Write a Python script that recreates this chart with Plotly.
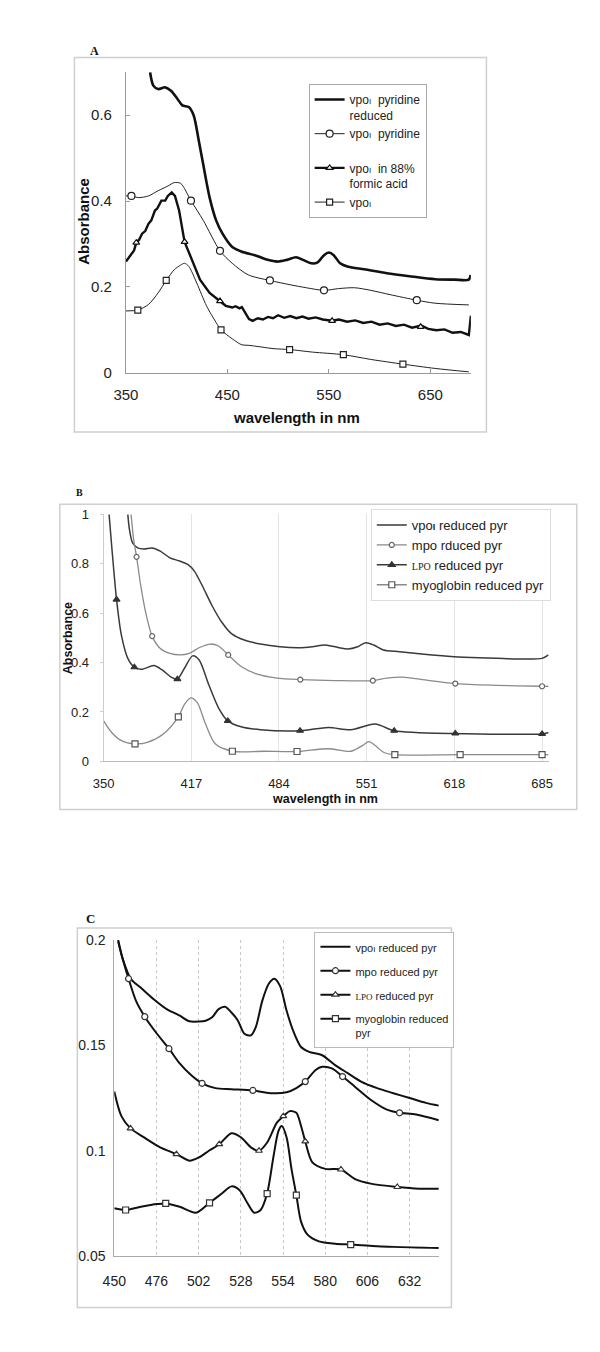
import plotly.graph_objects as go

W, H = 600, 1352
def PX(x): return x / W
def PY(y): return 1 - y / H

# ---------------- Panel A data ----------------
a1_wl = [373.8, 377, 381.7, 388.7, 394.4, 400.8, 405.6, 411.9, 416.7, 421.4, 426.2, 432.5, 438.9, 445.2,
         454.8, 464.3, 477, 489.7, 499.2, 508.7, 517.6, 524.6, 532.5, 538.9, 545.2, 550, 554.8, 561.1,
         569, 584.9, 607.1, 629.4, 654.8, 673.8, 688, 689.7]
a1_ab = [0.70, 0.669, 0.661, 0.665, 0.657, 0.638, 0.623, 0.619, 0.60, 0.546, 0.485, 0.408, 0.355, 0.324,
         0.293, 0.282, 0.274, 0.263, 0.259, 0.263, 0.269, 0.263, 0.255, 0.257, 0.274, 0.280, 0.274, 0.255,
         0.247, 0.241, 0.232, 0.225, 0.218, 0.217, 0.217, 0.228]

a2_wl = [350, 355.4, 362.7, 372.2, 381.7, 391.3, 397.6, 404, 414.1, 426.2, 442.7, 454.8, 470.6, 491.9,
         511.9, 527.8, 545.2, 559.5, 575.4, 591.3, 610.3, 636.7, 654.8, 688]
a2_ab = [0.412, 0.412, 0.408, 0.412, 0.424, 0.435, 0.443, 0.441, 0.401, 0.355, 0.284, 0.255, 0.228, 0.215,
         0.205, 0.198, 0.192, 0.196, 0.198, 0.192, 0.182, 0.169, 0.162, 0.158]
a2_mk_wl = [355.4, 414.1, 442.7, 491.9, 545.2, 636.7]
a2_mk_ab = [0.412, 0.401, 0.284, 0.215, 0.192, 0.169]

a3_wl = [350, 353, 356.3, 358, 360.2, 363, 365.9, 369, 372.2, 375, 378.6, 381, 384.9, 388.7, 391.3, 395.1,
         398.3, 402.4, 407.8, 415.1, 423, 432.5, 442.7, 448.4, 454.8, 458, 462, 464.3, 467.5, 471.3,
         475, 480, 485, 490, 495, 500, 506, 512, 518, 524, 530, 537, 544, 553, 560, 568, 576, 584,
         592, 600, 608, 616, 624, 632, 641, 648, 656, 664, 672, 680, 688, 690]
a3_ab = [0.259, 0.268, 0.278, 0.285, 0.303, 0.310, 0.324, 0.330, 0.347, 0.355, 0.378, 0.383, 0.401, 0.401,
         0.412, 0.420, 0.412, 0.378, 0.305, 0.263, 0.217, 0.186, 0.167, 0.156, 0.152, 0.155, 0.150, 0.153,
         0.140, 0.125, 0.121, 0.127, 0.124, 0.130, 0.127, 0.134, 0.128, 0.132, 0.127, 0.131, 0.126,
         0.129, 0.124, 0.121, 0.124, 0.119, 0.122, 0.116, 0.119, 0.112, 0.115, 0.109, 0.112, 0.105,
         0.110, 0.102, 0.099, 0.101, 0.093, 0.095, 0.088, 0.133]
a3_mk_wl = [360.2, 407.8, 442.7, 553.2, 640.5]
a3_mk_ab = [0.303, 0.305, 0.167, 0.121, 0.107]

a4_wl = [350, 361.7, 372.2, 381.7, 389.7, 397.6, 404, 407.8, 411.9, 419.8, 429.4, 438.9, 443.7, 454.8,
         464.3, 470.6, 483.3, 496, 511.3, 534.1, 564.3, 591.3, 623, 654.8, 688]
a4_ab = [0.144, 0.146, 0.159, 0.186, 0.215, 0.240, 0.251, 0.255, 0.248, 0.209, 0.156, 0.117, 0.100, 0.079,
         0.065, 0.064, 0.060, 0.056, 0.054, 0.048, 0.042, 0.031, 0.020, 0.010, 0.002]
a4_mk_wl = [361.7, 389.7, 443.7, 511.3, 564.3, 623]
a4_mk_ab = [0.146, 0.215, 0.100, 0.054, 0.042, 0.020]

a_names = ["vpo<span style='font-size:8px'>I</span>  pyridine<br>reduced",
           "vpo<span style='font-size:8px'>I</span>  pyridine<br> ",
           "vpo<span style='font-size:8px'>I</span>  in 88%<br>formic acid",
           "vpo<span style='font-size:8px'>I</span>"]
a_xticks = [350, 450, 550, 650]
a_yticks = [0, 0.2, 0.4, 0.6]

# ---------------- Panel B data ----------------
b1_wl = [368.5, 369.8, 372.2, 376, 380.9, 387.1, 393.3, 400.7, 408.1, 414.3, 419.2, 425.4, 432.8, 440.2,
         447.7, 457.5, 469.9, 484.7, 499.6, 509.5, 519.3, 529.2, 536.6, 544.1, 550.2, 556.4, 563.8,
         576.2, 600.9, 625.6, 650.4, 685, 689.9]
b1_ab = [1.0, 0.937, 0.884, 0.864, 0.86, 0.864, 0.851, 0.824, 0.811, 0.797, 0.771, 0.711, 0.631, 0.564,
         0.517, 0.491, 0.475, 0.464, 0.46, 0.464, 0.471, 0.461, 0.455, 0.464, 0.48, 0.471, 0.451,
         0.444, 0.431, 0.421, 0.417, 0.417, 0.431]

b2_wl = [371, 373, 375.2, 378.4, 382.1, 387.1, 393.3, 400.7, 408.1, 415.5, 422.9, 431.6, 437.8, 445.2,
         455.1, 467.4, 482.3, 500.3, 526.8, 555.7, 566.3, 578.7, 593.5, 618.7, 650.4, 685, 690]
b2_ab = [1.0, 0.897, 0.828, 0.711, 0.604, 0.507, 0.457, 0.437, 0.431, 0.437, 0.46, 0.475, 0.467, 0.431,
         0.384, 0.353, 0.337, 0.331, 0.327, 0.327, 0.337, 0.341, 0.331, 0.315, 0.308, 0.304, 0.304]
b2_mk_wl = [375.2, 387.1, 445.2, 500.3, 555.7, 618.7, 685]
b2_mk_ab = [0.828, 0.507, 0.431, 0.331, 0.327, 0.315, 0.304]

b3_wl = [354.2, 356.2, 359.9, 363.6, 368.5, 373.5, 379.7, 388.3, 394.5, 401.9, 406.4, 411.8, 418, 422.9,
         430.3, 437.8, 444.9, 455.1, 469.9, 500.1, 521.8, 538.9, 557.4, 572, 588.6, 618.7, 685, 690]
b3_ab = [1.0, 0.871, 0.655, 0.511, 0.417, 0.381, 0.373, 0.388, 0.371, 0.34, 0.333, 0.377, 0.427, 0.411,
         0.311, 0.217, 0.164, 0.14, 0.128, 0.124, 0.137, 0.128, 0.151, 0.124, 0.117, 0.113, 0.111, 0.117]
b3_mk_wl = [359.9, 373.5, 406.4, 444.9, 500.1, 572, 618.7, 685]
b3_mk_ab = [0.655, 0.381, 0.333, 0.164, 0.124, 0.124, 0.113, 0.111]

b4_wl = [350, 356.2, 363.6, 374, 383.4, 395.7, 407.1, 411.8, 416.7, 421.7, 427.9, 435.3, 448.4, 472.4,
         497.8, 521.8, 539.1, 547.7, 552.7, 557.6, 563.8, 572.5, 622.4, 685, 690]
b4_ab = [0.164, 0.117, 0.084, 0.071, 0.077, 0.111, 0.18, 0.231, 0.257, 0.237, 0.151, 0.071, 0.041, 0.041,
         0.04, 0.051, 0.041, 0.064, 0.08, 0.064, 0.037, 0.027, 0.027, 0.027, 0.027]
b4_mk_wl = [374, 407.1, 448.4, 497.8, 572.5, 622.4, 685]
b4_mk_ab = [0.071, 0.18, 0.041, 0.04, 0.027, 0.027, 0.027]

b_names = ["vpo<span style='font-size:9px'><b>I</b></span> reduced pyr",
           "mpo rduced pyr",
           "<span style='font-family:Liberation Serif;font-size:10px'>LPO</span> reduced pyr",
           "myoglobin reduced pyr"]
b_xticks = [350, 417, 484, 551, 618, 685]
b_yticks = [0, 0.2, 0.4, 0.6, 0.8, 1]

# ---------------- Panel C data ----------------
c1_wl = [452.4, 455.4, 460.4, 466.4, 474.3, 482.3, 490.3, 496.3, 502.3, 506.3, 510.3, 514.3, 518.3, 522.2,
         526.2, 530.2, 534.2, 537.2, 541.2, 545.2, 548.6, 552.2, 556.2, 560.2, 565.1, 570.1, 578.1,
         586.1, 594.1, 602.1, 612, 622, 632, 642, 650]
c1_ab = [0.2, 0.1906, 0.1813, 0.1773, 0.1719, 0.1672, 0.1641, 0.1614, 0.1613, 0.1617, 0.1633, 0.1672,
         0.1683, 0.1656, 0.1617, 0.1555, 0.1547, 0.1586, 0.1711, 0.1792, 0.1816, 0.1781, 0.1664, 0.157,
         0.1492, 0.1469, 0.1453, 0.1406, 0.1367, 0.1328, 0.1297, 0.1273, 0.125, 0.1227, 0.1214]

c2_wl = [452.4, 455, 458.8, 463.4, 468.8, 476.3, 483.7, 490.3, 497.3, 504.1, 512.3, 522.2, 535.4, 546.2,
         556.2, 562.2, 567.7, 574.1, 578.1, 584.1, 590.7, 598.1, 608, 618, 625.8, 636, 650]
c2_ab = [0.1992, 0.1914, 0.1816, 0.1711, 0.1636, 0.1555, 0.1484, 0.1414, 0.1359, 0.132, 0.1297, 0.1292,
         0.1286, 0.1273, 0.1277, 0.1297, 0.1328, 0.1383, 0.1398, 0.1391, 0.1352, 0.1305, 0.1242, 0.1195,
         0.118, 0.1172, 0.1145]
c2_mk_wl = [458.8, 468.8, 483.7, 504.1, 535.4, 567.7, 590.7, 625.8]
c2_mk_ab = [0.1816, 0.1636, 0.1484, 0.132, 0.1286, 0.1328, 0.1352, 0.118]

c3_wl = [450, 454.4, 460, 468.4, 478.3, 488.3, 496.3, 502.3, 508.3, 514.7, 522.2, 528.2, 534.2, 539.2,
         544.2, 550.2, 554.2, 558.2, 562.2, 565.1, 567.7, 572.1, 580.1, 589.7, 598.1, 608, 624.4, 638, 650]
c3_ab = [0.1281, 0.1164, 0.1106, 0.1063, 0.1016, 0.0984, 0.0953, 0.0969, 0.1, 0.1031, 0.1083, 0.1063,
         0.1016, 0.1, 0.1039, 0.1133, 0.1164, 0.1188, 0.118, 0.1117, 0.1044, 0.0945, 0.0914, 0.0911,
         0.0867, 0.0844, 0.0828, 0.082, 0.082]
c3_mk_wl = [460, 488.3, 514.7, 539.2, 554.2, 567.7, 589.7, 624.4]
c3_mk_ab = [0.1106, 0.0984, 0.1031, 0.1, 0.1164, 0.1044, 0.0911, 0.0828]

c4_wl = [450, 457, 466.4, 476.3, 481.7, 490.3, 500.3, 508.7, 516.3, 522.2, 527.2, 532.2, 536.2, 540.2,
         544.2, 548.2, 551.2, 553.2, 556.2, 559.2, 562.2, 565.1, 569.1, 576.1, 586.1, 595.7, 622, 650]
c4_ab = [0.0727, 0.0719, 0.0734, 0.0747, 0.075, 0.0734, 0.0706, 0.0753, 0.0797, 0.0831, 0.0813, 0.075,
         0.0706, 0.0719, 0.0797, 0.0977, 0.1094, 0.1117, 0.1063, 0.0914, 0.0789, 0.0664, 0.0602, 0.057,
         0.0559, 0.0555, 0.0544, 0.0539]
c4_mk_wl = [457, 481.7, 508.7, 544.2, 562.2, 595.7]
c4_mk_ab = [0.0719, 0.075, 0.0753, 0.0797, 0.0789, 0.0555]

c_names = ["vpo<span style='font-size:8px'>I</span> reduced pyr",
           "mpo reduced pyr",
           "<span style='font-family:Liberation Serif;font-size:9px'>LPO</span> reduced pyr",
           "myoglobin reduced<br>pyr"]
c_xticks = [450, 476, 502, 528, 554, 580, 606, 632]
c_yticks = [0.05, 0.1, 0.15, 0.2]

FONT = "Liberation Sans, Arial, sans-serif"
SERIF = "Liberation Serif, Times New Roman, serif"

fig = go.Figure()

def add_series(xa, ya, leg, name, wl, ab, color, width, shape, mwl=None, mab=None,
               symbol=None, msize=6, mcolor=None, mfill="white", group=None):
    fig.add_trace(go.Scatter(x=wl, y=ab, mode="lines", xaxis=xa, yaxis=ya,
                             line=dict(color=color, width=width, shape=shape, smoothing=0.8),
                             showlegend=False, hoverinfo="skip"))
    mk = None
    if mwl is not None:
        mk = dict(symbol=symbol, size=msize, color=mfill,
                  line=dict(color=mcolor or color, width=1.2))
        fig.add_trace(go.Scatter(x=mwl, y=mab, mode="markers", xaxis=xa, yaxis=ya, marker=mk,
                                 showlegend=False, hoverinfo="skip"))
    fig.add_trace(go.Scatter(x=[None], y=[None], xaxis=xa, yaxis=ya, name=name, legend=leg,
                             legendgroup=group,
                             mode="lines+markers" if mk else "lines",
                             line=dict(color=color, width=width), marker=mk))

# Panel A
add_series("x", "y", "legend", a_names[0], a1_wl, a1_ab, "#111", 2.6, "spline", group="a1")
add_series("x", "y", "legend", a_names[1], a2_wl, a2_ab, "#222", 1.0, "spline",
           a2_mk_wl, a2_mk_ab, "circle", 7, group="a2")
add_series("x", "y", "legend", a_names[2], a3_wl, a3_ab, "#111", 2.4, "linear",
           a3_mk_wl, a3_mk_ab, "triangle-up", 6, group="a3")
add_series("x", "y", "legend", a_names[3], a4_wl, a4_ab, "#222", 1.0, "spline",
           a4_mk_wl, a4_mk_ab, "square", 6, group="a4")

# Panel B
add_series("x2", "y2", "legend2", b_names[0], b1_wl, b1_ab, "#3a3a3a", 1.5, "spline")
add_series("x2", "y2", "legend2", b_names[1], b2_wl, b2_ab, "#8a8a8a", 1.3, "spline",
           b2_mk_wl, b2_mk_ab, "circle", 5, mcolor="#666")
add_series("x2", "y2", "legend2", b_names[2], b3_wl, b3_ab, "#3a3a3a", 1.5, "spline",
           b3_mk_wl, b3_mk_ab, "triangle-up", 6, mcolor="#333", mfill="#333")
add_series("x2", "y2", "legend2", b_names[3], b4_wl, b4_ab, "#8a8a8a", 1.3, "spline",
           b4_mk_wl, b4_mk_ab, "square", 6, mcolor="#555")

# Panel C
add_series("x3", "y3", "legend3", c_names[0], c1_wl, c1_ab, "#111", 2.0, "spline", group="c1")
add_series("x3", "y3", "legend3", c_names[1], c2_wl, c2_ab, "#111", 2.0, "spline",
           c2_mk_wl, c2_mk_ab, "circle", 6, mcolor="#333", group="c2")
add_series("x3", "y3", "legend3", c_names[2], c3_wl, c3_ab, "#111", 2.0, "spline",
           c3_mk_wl, c3_mk_ab, "triangle-up", 6, mcolor="#333", group="c3")
add_series("x3", "y3", "legend3", c_names[3], c4_wl, c4_ab, "#111", 2.0, "spline",
           c4_mk_wl, c4_mk_ab, "square", 6, mcolor="#333", group="c4")

tickfontA = dict(family=FONT, size=15, color="#222")
tickfontB = dict(family=FONT, size=13, color="#222")
tickfontC = dict(family=FONT, size=14, color="#222")

fig.update_layout(
    width=W, height=H, margin=dict(l=0, r=0, t=0, b=0),
    paper_bgcolor="white", plot_bgcolor="white",
    font=dict(family=FONT, color="#222"),
    xaxis=dict(domain=[PX(108), PX(463)], range=[350, 690], tickvals=a_xticks, showgrid=False,
               zeroline=False, showline=True, linecolor="#999", linewidth=1, ticks="inside",
               ticklen=4, tickcolor="#999", tickfont=tickfontA, ticklabelstandoff=8, anchor="y"),
    yaxis=dict(domain=[PY(361), PY(57)], range=[0, 0.7], tickvals=a_yticks, showgrid=False,
               zeroline=False, showline=True, linecolor="#999", linewidth=1, ticks="inside",
               ticklen=4, tickcolor="#999", tickfont=tickfontA, ticklabelstandoff=10, anchor="x"),
    xaxis2=dict(domain=[PX(85), PX(543)], range=[350, 690], tickvals=b_xticks, showgrid=True,
                gridcolor="#e4e4e4", zeroline=False, showline=True, linecolor="#bbb", ticks="",
                tickfont=tickfontB, ticklabelstandoff=10, anchor="y2"),
    yaxis2=dict(domain=[PY(754.3), PY(504.3)], range=[0, 1], tickvals=b_yticks, showgrid=False,
                zeroline=False, showline=True, linecolor="#ccc", ticks="outside", ticklen=3,
                tickcolor="#ccc", tickfont=tickfontB, ticklabelstandoff=8, anchor="x2"),
    xaxis3=dict(domain=[PX(96), PX(430)], range=[450, 650], tickvals=c_xticks, showgrid=True,
                gridcolor="#c8c8c8", griddash="dot", zeroline=False, showline=True, linecolor="#aaa",
                ticks="", tickfont=tickfontC, ticklabelstandoff=12, anchor="y3"),
    yaxis3=dict(domain=[PY(1255), PY(935)], range=[0.05, 0.2], tickvals=c_yticks, showgrid=False,
                zeroline=False, showline=True, linecolor="#aaa", ticks="", tickfont=tickfontC,
                ticklabelstandoff=5, anchor="x3"),
    legend=dict(x=PX(296), y=PY(69), xanchor="left", yanchor="top", bgcolor="white",
                bordercolor="#aaa", borderwidth=1, font=dict(family=FONT, size=12, color="#222"),
                valign="top", tracegroupgap=0, itemwidth=30),
    legend2=dict(x=PX(360), y=PY(499), xanchor="left", yanchor="top", bgcolor="white",
                 bordercolor="#ddd", borderwidth=1, font=dict(family=FONT, size=13, color="#222"),
                 itemwidth=30),
    legend3=dict(x=PX(302), y=PY(927), xanchor="left", yanchor="top", bgcolor="white",
                 bordercolor="#bbb", borderwidth=1, font=dict(family=FONT, size=11, color="#222"),
                 valign="top", tracegroupgap=5, itemwidth=30),
)

frame = dict(type="rect", xref="paper", yref="paper", line=dict(color="#cfcfcf", width=1.5),
             fillcolor="rgba(0,0,0,0)", layer="below")
fig.add_shape(x0=PX(55), x1=PX(479), y0=PY(421), y1=PY(42), **frame)
fig.add_shape(x0=PX(40), x1=PX(572), y0=PY(803), y1=PY(494), **frame)
fig.add_shape(x0=PX(58), x1=PX(443), y0=PY(1307), y1=PY(923), **frame)

def ann(text, x, y, size, bold=True, family=FONT, angle=0):
    fig.add_annotation(text=f"<b>{text}</b>" if bold else text, x=PX(x), y=PY(y),
                       xref="paper", yref="paper", showarrow=False, textangle=angle,
                       font=dict(family=family, size=size, color="#111"),
                       xanchor="center", yanchor="middle")

ann("A", 76, 35, 12, family=SERIF)
ann("B", 60, 482, 10, family=SERIF)
ann("C", 72, 913, 13, family=SERIF)
ann("Absorbance", 64, 208, 15, angle=-90)
ann("wavelength in nm", 284, 406, 15)
ann("Absorbance", 48, 630, 12.5, angle=-90)
ann("wavelength in nm", 313, 792, 12.5)

fig.write_html("out.html")
